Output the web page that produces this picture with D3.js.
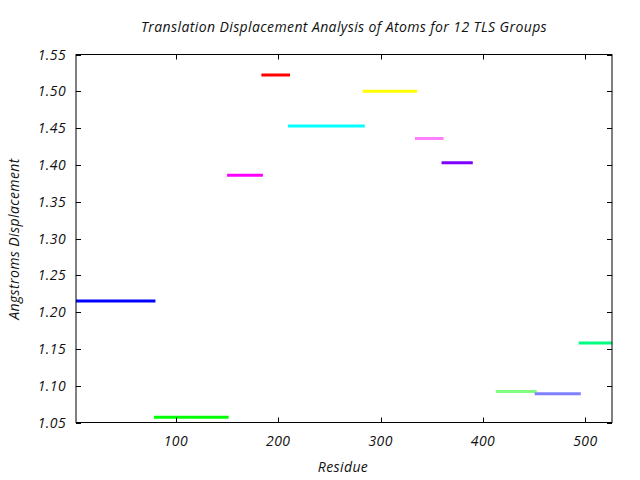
<!DOCTYPE html>
<html><head><meta charset="utf-8">
<script src="https://cdn.jsdelivr.net/npm/d3@7"></script>
<style>body{margin:0;background:#fff}text{font-family:"Open Sans",sans-serif;font-style:italic;fill:#111;letter-spacing:0.4px}</style>
</head><body>
<script>
const groupStart = [2, 78.5, 150, 183.5, 209.5, 282.5, 333.5, 359.5, 412.5, 450.5, 493.5];
const groupEnd   = [80, 151.5, 185, 211.5, 284.5, 335.5, 361.5, 390, 452.5, 495.5, 526];
const groupValue = [1.215, 1.057, 1.386, 1.522, 1.453, 1.500, 1.436, 1.403, 1.092, 1.089, 1.158];
const groupColor = ["#0000ff","#00ff00","#ff00ff","#ff0000","#00ffff","#ffff00","#ff80ff","#8000ff","#80ff80","#8080ff","#00ff80"];
const xTicks = [100, 200, 300, 400, 500];
const yTicks = [1.05,1.10,1.15,1.20,1.25,1.30,1.35,1.40,1.45,1.50,1.55];

const W = 640, H = 480;
const m = {left: 76, right: 612, top: 54.5, bottom: 422.5};
const svg = d3.select("body").append("svg").attr("width", W).attr("height", H);
const x = d3.scaleLinear().domain([2.4, 526]).range([m.left, m.right]);
const y = d3.scaleLinear().domain([1.05, 1.55]).range([m.bottom, m.top]);

svg.append("clipPath").attr("id","c").append("rect")
  .attr("x", m.left).attr("y", m.top).attr("width", m.right-m.left).attr("height", m.bottom-m.top);

const data = groupValue.map((v,i)=>({s:groupStart[i], e:groupEnd[i], v, c:groupColor[i]}));
svg.append("g").attr("clip-path","url(#c)").selectAll("line").data(data).join("line")
  .attr("x1", d=>x(d.s)).attr("x2", d=>x(d.e))
  .attr("y1", d=>y(d.v)).attr("y2", d=>y(d.v))
  .attr("stroke", d=>d.c).attr("stroke-width", 3);

const tl = 5;
const ax = svg.append("g").attr("stroke","#000").attr("stroke-width",1).attr("fill","none");
ax.append("rect").attr("x", m.left).attr("y", m.top).attr("width", m.right-m.left).attr("height", m.bottom-m.top);
xTicks.forEach(t=>{
  const px = Math.round(x(t))+0.5;
  ax.append("line").attr("x1",px).attr("x2",px).attr("y1",m.bottom).attr("y2",m.bottom-tl);
  ax.append("line").attr("x1",px).attr("x2",px).attr("y1",m.top).attr("y2",m.top+tl);
});
yTicks.forEach(t=>{
  const py = Math.round(y(t))+0.5;
  ax.append("line").attr("x1",m.left).attr("x2",m.left+tl).attr("y1",py).attr("y2",py);
  ax.append("line").attr("x1",m.right).attr("x2",m.right-tl).attr("y1",py).attr("y2",py);
});

const fs = 14;
svg.append("g").selectAll("text").data(xTicks).join("text")
  .attr("x", d=>x(d)).attr("y", m.bottom+23).attr("text-anchor","middle").attr("font-size",fs)
  .text(d=>d);
svg.append("g").selectAll("text").data(yTicks).join("text")
  .attr("x", 66).attr("y", d=>y(d)+5).attr("text-anchor","end").attr("font-size",fs)
  .text(d=>d.toFixed(2));

svg.append("text").attr("x", 344).attr("y", 32).attr("text-anchor","middle").attr("font-size",fs)
  .text("Translation Displacement Analysis of Atoms for 12 TLS Groups");
svg.append("text").attr("x", 343).attr("y", 472).attr("text-anchor","middle").attr("font-size",fs)
  .text("Residue");
svg.append("text").attr("transform","translate(19,239) rotate(-90)").attr("text-anchor","middle").attr("font-size",fs)
  .text("Angstroms Displacement");
</script>
</body></html>
